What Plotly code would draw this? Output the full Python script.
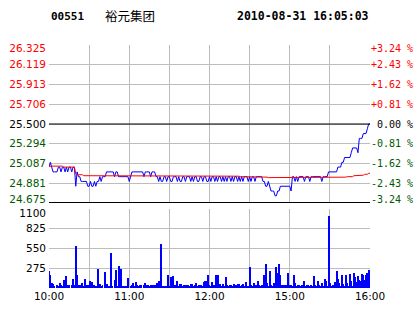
import plotly.graph_objects as go

# ---------------- data ----------------
minutes = list(range(241))

price = [
    25.05, 25.10, 25.05, 25.00, 25.00, 25.00, 25.00, 25.05, 25.05, 25.00,
    25.05, 25.05, 25.00, 25.05, 25.00, 25.05, 25.05, 25.00, 25.05, 25.05,
    24.85, 25.00, 24.95, 24.95, 24.90, 24.90, 24.90, 24.90, 24.90, 24.85,
    24.85, 24.90, 24.85, 24.85, 24.90, 24.85, 24.90, 24.90, 24.95, 24.90,
    24.95, 24.95, 24.95, 25.00, 25.00, 25.00, 25.00, 25.00, 25.00, 24.95,
    25.00, 25.00, 24.95, 24.95, 24.95, 24.95, 24.95, 24.95, 24.95, 24.95,
    24.90, 24.95, 25.00, 25.00, 25.00, 25.00, 25.00, 25.00, 25.00, 25.00,
    25.00, 24.95, 25.00, 25.00, 25.00, 25.00, 24.95, 25.00, 25.00, 25.00,
    24.95, 24.95, 24.90, 24.95, 24.90, 24.90, 24.95, 24.95, 24.90, 24.95,
    24.95, 24.90, 24.90, 24.95, 24.95, 24.95, 24.90, 24.95, 24.90, 24.90,
    24.95, 24.95, 24.90, 24.95, 24.95, 24.95, 24.90, 24.95, 24.90, 24.95,
    24.95, 24.90, 24.90, 24.95, 24.95, 24.90, 24.95, 24.95, 24.90, 24.90,
    24.95, 24.90, 24.95, 24.95, 24.90, 24.95, 24.90, 24.95, 24.95, 24.90,
    24.95, 24.90, 24.95, 24.90, 24.95, 24.95, 24.90, 24.95, 24.90, 24.95,
    24.95, 24.90, 24.95, 24.90, 24.95, 24.90, 24.95, 24.95, 24.95, 24.90,
    24.95, 24.90, 24.95, 24.95, 24.90, 24.95, 24.95, 24.95, 24.95, 24.95,
    24.90, 24.90, 24.85, 24.85, 24.90, 24.85, 24.80, 24.80, 24.80, 24.75,
    24.75, 24.80, 24.80, 24.85, 24.85, 24.85, 24.85, 24.85, 24.85, 24.85,
    24.85, 24.80, 24.95, 24.95, 24.90, 24.95, 24.90, 24.95, 24.95, 24.95,
    24.95, 24.90, 24.95, 24.95, 24.95, 24.90, 24.95, 24.95, 24.95, 24.95,
    24.95, 24.95, 24.95, 24.95, 24.90, 24.95, 24.95, 24.95, 24.95, 25.00,
    25.00, 25.00, 25.00, 25.00, 25.00, 25.00, 25.05, 25.05, 25.05, 25.10,
    25.10, 25.15, 25.15, 25.15, 25.15, 25.15, 25.20, 25.25, 25.25, 25.25,
    25.25, 25.20, 25.35, 25.35, 25.35, 25.40, 25.40, 25.40, 25.45, 25.50,
    25.50,
]

avg_price = [
    25.06, 25.06, 25.06, 25.06, 25.06, 25.06, 25.06, 25.06, 25.06, 25.06,
    25.06, 25.05, 25.05, 25.05, 25.05, 25.05, 25.05, 25.05, 25.05, 25.05,
    24.98, 24.97, 24.97, 24.97, 24.97, 24.97, 24.96, 24.96, 24.96, 24.96,
    24.96, 24.955, 24.955, 24.955, 24.955, 24.955, 24.955, 24.955, 24.955, 24.955,
    24.955, 24.955, 24.955, 24.955, 24.955, 24.955, 24.955, 24.955, 24.955, 24.955,
    24.955, 24.955, 24.955, 24.955, 24.955, 24.955, 24.955, 24.955, 24.955, 24.955,
    24.955, 24.955, 24.955, 24.955, 24.955, 24.955, 24.955, 24.955, 24.955, 24.955,
    24.955, 24.955, 24.955, 24.955, 24.955, 24.955, 24.955, 24.955, 24.955, 24.955,
    24.955, 24.955, 24.955, 24.955, 24.955, 24.955, 24.955, 24.955, 24.955, 24.955,
    24.955, 24.955, 24.955, 24.955, 24.955, 24.955, 24.955, 24.955, 24.955, 24.955,
    24.955, 24.955, 24.955, 24.955, 24.955, 24.955, 24.955, 24.955, 24.955, 24.955,
    24.955, 24.955, 24.955, 24.955, 24.955, 24.955, 24.955, 24.955, 24.955, 24.955,
    24.955, 24.955, 24.955, 24.955, 24.955, 24.955, 24.955, 24.955, 24.955, 24.955,
    24.955, 24.955, 24.955, 24.955, 24.955, 24.955, 24.955, 24.955, 24.955, 24.955,
    24.955, 24.955, 24.955, 24.95, 24.95, 24.95, 24.95, 24.95, 24.95, 24.95,
    24.95, 24.95, 24.95, 24.95, 24.95, 24.95, 24.95, 24.95, 24.95, 24.95,
    24.95, 24.945, 24.945, 24.945, 24.94, 24.94, 24.94, 24.94, 24.94, 24.94,
    24.94, 24.94, 24.94, 24.94, 24.94, 24.94, 24.94, 24.94, 24.94, 24.94,
    24.94, 24.94, 24.94, 24.94, 24.94, 24.94, 24.94, 24.94, 24.94, 24.94,
    24.94, 24.94, 24.94, 24.94, 24.94, 24.94, 24.94, 24.94, 24.94, 24.94,
    24.94, 24.94, 24.94, 24.94, 24.94, 24.94, 24.94, 24.94, 24.94, 24.94,
    24.94, 24.94, 24.94, 24.94, 24.94, 24.94, 24.945, 24.945, 24.945, 24.945,
    24.945, 24.945, 24.945, 24.95, 24.95, 24.95, 24.95, 24.95, 24.96, 24.96,
    24.96, 24.96, 24.965, 24.965, 24.965, 24.965, 24.975, 24.975, 24.975, 24.985,
    24.985,
]

volume = [
    241, 185, 70, 55, 20, 0, 35, 15, 70, 45,
    30, 115, 83, 171, 45, 45, 0, 45, 129, 45,
    589, 185, 45, 45, 45, 70, 20, 129, 37, 37,
    0, 102, 83, 37, 37, 20, 0, 269, 55, 30,
    45, 0, 222, 55, 32, 20, 487, 32, 0, 115,
    255, 32, 310, 213, 259, 23, 0, 20, 15, 139,
    0, 20, 45, 70, 30, 83, 37, 20, 37, 37,
    0, 37, 70, 37, 37, 20, 37, 37, 37, 45,
    37, 70, 102, 32, 612, 32, 32, 32, 32, 185,
    15, 153, 20, 171, 46, 46, 102, 20, 55, 55,
    20, 46, 46, 46, 46, 20, 55, 55, 20, 46,
    70, 20, 46, 46, 46, 20, 83, 94, 102, 185,
    46, 20, 83, 46, 20, 178, 185, 20, 55, 20,
    55, 20, 153, 46, 20, 46, 46, 20, 55, 20,
    46, 55, 55, 20, 46, 55, 20, 83, 32, 20,
    287, 46, 20, 70, 20, 40, 102, 40, 20, 46,
    46, 185, 338, 70, 20, 241, 46, 20, 70, 20,
    287, 213, 338, 185, 46, 20, 46, 46, 20, 213,
    46, 46, 20, 185, 65, 20, 46, 46, 20, 46,
    46, 102, 20, 46, 46, 20, 46, 20, 171, 46,
    20, 102, 46, 20, 70, 20, 129, 102, 20, 1006,
    70, 20, 46, 46, 83, 241, 129, 70, 20, 178,
    55, 20, 185, 70, 20, 199, 102, 20, 208, 153,
    83, 171, 116, 102, 199, 178, 116, 178, 208, 255,
    55,
]

prev_close = 25.50
price_ticks = [24.675, 24.88125, 25.0875, 25.29375, 25.5, 25.70625, 25.9125, 26.11875, 26.325]
price_labels = ["24.675", "24.881", "25.087", "25.294", "25.500", "25.706", "25.913", "26.119", "26.325"]
pct_labels = ["-3.24 %", "-2.43 %", "-1.62 %", "-0.81 %", "\u00a00.00 %", "+0.81 %", "+1.62 %", "+2.43 %", "+3.24 %"]
vol_ticks = [0, 275, 550, 825, 1100]
vol_labels = ["", "275", "550", "825", "1100"]
time_ticks = [0, 30, 60, 90, 120, 150, 180, 210, 240]
time_labels = ["10:00", "", "11:00", "", "12:00", "", "15:00", "", "16:00"]

stock_code = "00551"
stock_name = "裕元集团"
timestamp = "2010-08-31 16:05:03"

# ---------------- styling ----------------
RED = "#ff0000"
GREEN = "#005a00"
BLACK = "#000000"
GRID = "#bdbdbd"

W, H = 414, 314
L, R, T, B = 49, 44, 45, 26
ph = H - T - B
PRICE_TOP_PX, PRICE_BOT_PX = 45, 203
VOL_TOP_PX, VOL_BOT_PX = 209, 288
price_dom = [(H - B - PRICE_BOT_PX) / ph, 1]
vol_dom = [0, (H - B - VOL_TOP_PX) / ph]

# edge tick labels sit slightly inside the panel (label nudges, in pixels)
p_unit = (price_ticks[-1] - price_ticks[0]) / (PRICE_BOT_PX - PRICE_TOP_PX)
v_unit = (vol_ticks[-1] - vol_ticks[0]) / (VOL_BOT_PX - VOL_TOP_PX)
price_label_pos = list(price_ticks)
price_label_pos[0] += 3.5 * p_unit
price_label_pos[-1] -= 3.0 * p_unit
vol_label_pos = list(vol_ticks)
vol_label_pos[-1] -= 4.4 * v_unit


def colored(labels, ticks):
    out = []
    for lab, t in zip(labels, ticks):
        if abs(t - prev_close) < 1e-9:
            c = BLACK
        elif t > prev_close:
            c = RED
        else:
            c = GREEN
        out.append(f"<span style='color:{c}'>{lab}</span>")
    return out


fig = go.Figure()

fig.add_trace(go.Scatter(x=minutes, y=price, mode="lines",
                         line=dict(color="#0000ff", width=1), xaxis="x", yaxis="y",
                         showlegend=False, hoverinfo="skip"))
fig.add_trace(go.Scatter(x=minutes, y=avg_price, mode="lines",
                         line=dict(color=RED, width=1), xaxis="x", yaxis="y",
                         showlegend=False, hoverinfo="skip"))
for ya in ("y2", "y4"):
    fig.add_trace(go.Scatter(x=[minutes[0]], y=[prev_close], mode="markers",
                             marker=dict(opacity=0), xaxis="x", yaxis=ya,
                             showlegend=False, hoverinfo="skip"))
fig.add_trace(go.Bar(x=minutes, y=volume, width=0.75,
                     marker=dict(color="#0000ff", line=dict(width=0)),
                     xaxis="x2", yaxis="y3", showlegend=False, hoverinfo="skip"))
fig.add_trace(go.Scatter(x=[minutes[0]], y=[0], mode="markers",
                         marker=dict(opacity=0), xaxis="x2", yaxis="y5",
                         showlegend=False, hoverinfo="skip"))

common_x = dict(range=[0, 240], tickvals=time_ticks, showgrid=True, gridcolor=GRID,
                gridwidth=1, zeroline=False, showline=False, ticks="", automargin=False)
label_font = dict(family="DejaVu Sans", size=10.5, color=BLACK)

fig.update_layout(
    width=W, height=H,
    margin=dict(l=L, r=R, t=T, b=B, pad=0),
    paper_bgcolor="white", plot_bgcolor="white",
    font=dict(family="DejaVu Sans", size=10, color=BLACK),
    bargap=0,
    xaxis=dict(**common_x, anchor="y", domain=[0, 1], showticklabels=False),
    xaxis2=dict(**common_x, anchor="y3", domain=[0, 1], ticktext=time_labels,
                showticklabels=True, tickfont=label_font),
    # price panel: grid only
    yaxis=dict(domain=price_dom, range=[price_ticks[0], price_ticks[-1]], tickvals=price_ticks,
               showticklabels=False, showgrid=True, gridcolor=GRID,
               zeroline=False, ticks="", automargin=False, anchor="x"),
    # price labels (left)
    yaxis4=dict(overlaying="y", side="left", range=[price_ticks[0], price_ticks[-1]],
                tickvals=price_label_pos, ticktext=colored(price_labels, price_ticks),
                showgrid=False, zeroline=False, ticks="", ticklabelstandoff=2,
                automargin=False, tickfont=label_font, anchor="x"),
    # percent labels (right)
    yaxis2=dict(overlaying="y", side="right", range=[price_ticks[0], price_ticks[-1]],
                tickvals=price_label_pos, ticktext=colored(pct_labels, price_ticks),
                showgrid=False, zeroline=False, ticks="", automargin=False, ticklabelstandoff=0,
                tickfont=dict(family="DejaVu Sans Mono", size=10), anchor="x"),
    # volume panel grid
    yaxis3=dict(domain=vol_dom, range=[0, 1100], tickvals=vol_ticks, showticklabels=False,
                showgrid=True, gridcolor=GRID, zeroline=False, ticks="",
                automargin=False, anchor="x2"),
    # volume labels
    yaxis5=dict(overlaying="y3", side="left", range=[0, 1100], tickvals=vol_label_pos,
                ticktext=vol_labels, showgrid=False, zeroline=False, ticks="",
                ticklabelstandoff=2, automargin=False, tickfont=label_font, anchor="x2"),
    shapes=[
        dict(type="line", xref="x domain", yref="y", x0=0, x1=1, y0=prev_close, y1=prev_close,
             line=dict(color=BLACK, width=1)),
        dict(type="line", xref="x domain", yref="y", x0=0, x1=1, y0=price_ticks[0], y1=price_ticks[0],
             line=dict(color=BLACK, width=2)),
    ],
    annotations=[
        dict(text=f"<b>{stock_code}</b>", xref="paper", yref="paper", x=(49 - L) / (W - L - R),
             y=(H - B - 16.5) / ph, xanchor="left", yanchor="middle", showarrow=False,
             font=dict(family="DejaVu Sans Mono", size=11, color=BLACK)),
        dict(text=stock_name, xref="paper", yref="paper", x=(103 - L) / (W - L - R),
             y=(H - B - 15.5) / ph, xanchor="left", yanchor="middle", showarrow=False,
             font=dict(family="Noto Sans CJK SC", size=12.5, color=BLACK)),
        dict(text=f"<b>{timestamp}</b>", xref="paper", yref="paper", x=(370.5 - L) / (W - L - R),
             y=(H - B - 16.5) / ph, xanchor="right", yanchor="middle", showarrow=False,
             font=dict(family="DejaVu Sans Mono", size=11.5, color=BLACK)),
    ],
)

fig.write_html("out.html")
